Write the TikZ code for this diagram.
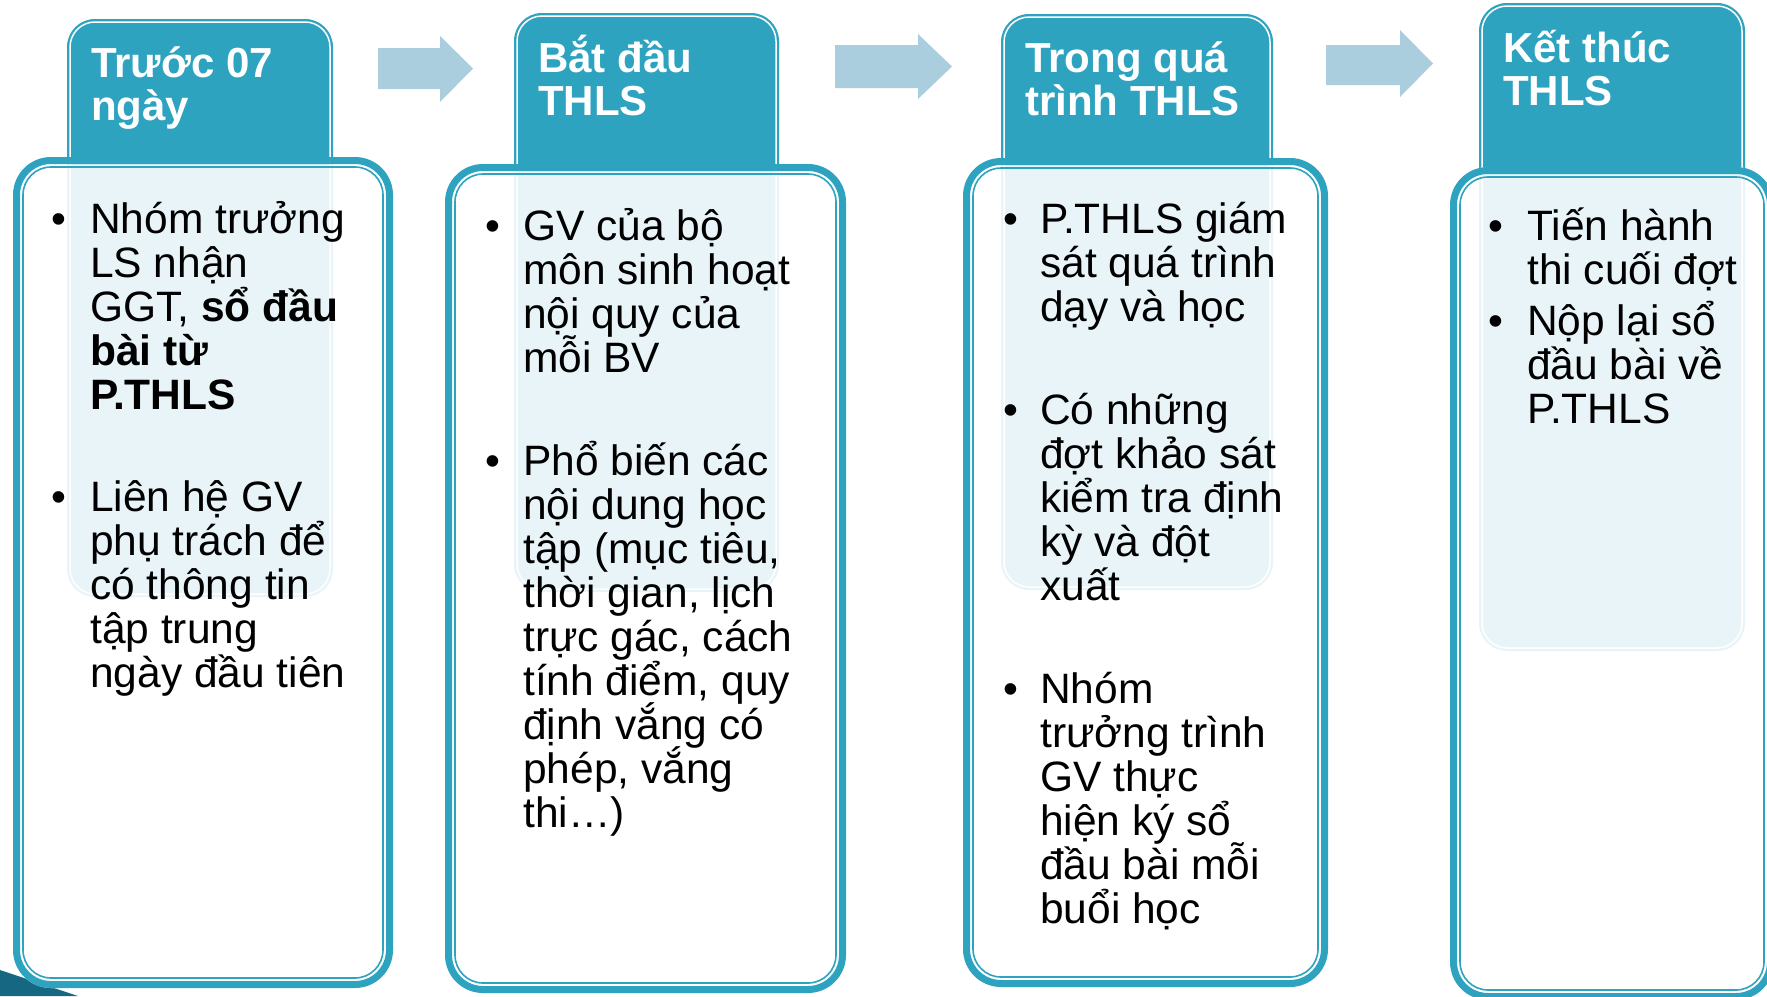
\documentclass[tikz,border=0pt]{standalone}
\usepackage{fontspec}
\setmainfont{Liberation Sans}
\setlength{\lineskiplimit}{-100pt}
\definecolor{tealc}{RGB}{46,163,192}
\definecolor{arrowc}{RGB}{170,206,221}
\definecolor{darkteal}{RGB}{22,104,130}
\tikzset{
  hdrtext/.style={anchor=base west, inner sep=0pt, align=left, text=white, font=\fontsize{42}{43}\selectfont\bfseries},
  bodytext/.style={anchor=base west, inner sep=0pt, align=left, font=\fontsize{42.5}{44}\selectfont},
  bul/.style={anchor=base, inner sep=0pt, font=\fontsize{42.5}{44}\selectfont},
  hdrfill/.style={fill=tealc, rounded corners=28pt},
  hdrline/.style={draw=white, line width=1.5pt, rounded corners=25pt},
  boxfill/.style={fill=white, fill opacity=0.89, rounded corners=38pt},
  boxouter/.style={draw=tealc, line width=7pt, rounded corners=34.5pt},
  boxinner/.style={draw=tealc, line width=1.6pt, rounded corners=28pt},
  blockarrow/.style={fill=arrowc}
}
\newcommand\hdrtab[4]{%
  \fill[hdrfill] (#1,#2) rectangle (#3,#4);
  \draw[hdrline] (#1+3,#2+3) rectangle (#3-3,#4-3);}
\newcommand\bodybox[4]{%
  \fill[boxfill] (#1,#2) rectangle (#3,#4);
  \draw[boxouter] (#1+3.5,#2+3.5) rectangle (#3-3.5,#4-3.5);
  \draw[boxinner] (#1+10,#2+10) rectangle (#3-10,#4-10);}
\begin{document}
\begin{tikzpicture}[x=1pt,y=-1pt]
\useasboundingbox (0,0) rectangle (1767,996);
\clip (0,0) rectangle (1767,996);
\fill[white] (0,0) rectangle (1767,996);
% corner decoration
\fill[darkteal] (0,970) -- (78,996) -- (0,996) -- cycle;
% header tabs
\hdrtab{67}{19}{333}{597}
\hdrtab{514}{13}{779}{592}
\hdrtab{1001}{14}{1273}{590}
\hdrtab{1479}{3}{1745}{651}
% body boxes
\bodybox{13}{157}{393}{988}
\bodybox{445}{164}{846}{993}
\bodybox{963}{158}{1328}{987}
\bodybox{1450}{167}{1774}{1000}
% block arrows
\fill[blockarrow] (378,48) -- (440,48) -- (440,36) -- (473,68.5) -- (440,102) -- (440,89) -- (378,89) -- cycle;
\fill[blockarrow] (835,45) -- (918,45) -- (918,34) -- (952,66.5) -- (918,99) -- (918,88) -- (835,88) -- cycle;
\fill[blockarrow] (1326,45) -- (1400,45) -- (1400,30) -- (1433,63.5) -- (1400,97) -- (1400,85) -- (1326,85) -- cycle;
% header texts (anchor on the baseline of the last line)
\node[hdrtext] (h1) at (91,120) {Trước 07\\ngày};
\node[hdrtext] (h2) at (538,115) {Bắt đầu\\THLS};
\node[hdrtext] (h3) at (1025,115) {Trong quá\\trình THLS};
\node[hdrtext] (h4) at (1503,105) {Kết thúc\\THLS};
% column 1
\node[bul] (u1a) at (58.5,233) {•};
\node[bodytext] (t1a) at (90,409) {Nhóm trưởng\\LS nhận\\GGT, \textbf{sổ đầu}\\\textbf{bài từ}\\\textbf{P.THLS}};
\node[bul] (u1b) at (58.5,511) {•};
\node[bodytext] (t1b) at (90,687) {Liên hệ GV\\phụ trách để\\có thông tin\\tập trung\\ngày đầu tiên};
% column 2
\node[bul] (u2a) at (493,240) {•};
\node[bodytext] (t2a) at (523,372) {GV của bộ\\môn sinh hoạt\\nội quy của\\mỗi BV};
\node[bul] (u2b) at (493,475) {•};
\node[bodytext] (t2b) at (523,827) {Phổ biến các\\nội dung học\\tập (mục tiêu,\\thời gian, lịch\\trực gác, cách\\tính điểm, quy\\định vắng có\\phép, vắng\\thi…)};
% column 3
\node[bul] (u3a) at (1010.5,233) {•};
\node[bodytext] (t3a) at (1040,321) {P.THLS giám\\sát quá trình\\dạy và học};
\node[bul] (u3b) at (1010.5,424) {•};
\node[bodytext] (t3b) at (1040,600) {Có những\\đợt khảo sát\\kiểm tra định\\kỳ và đột\\xuất};
\node[bul] (u3c) at (1010.5,703) {•};
\node[bodytext] (t3c) at (1040,923) {Nhóm\\trưởng trình\\GV thực\\hiện ký sổ\\đầu bài mỗi\\buổi học};
% column 4
\node[bul] (u4a) at (1496,240) {•};
\node[bodytext] (t4a) at (1527,284) {Tiến hành\\thi cuối đợt};
\node[bul] (u4b) at (1496,335) {•};
\node[bodytext] (t4b) at (1527,423) {Nộp lại sổ\\đầu bài về\\P.THLS};
\end{tikzpicture}
\end{document}
